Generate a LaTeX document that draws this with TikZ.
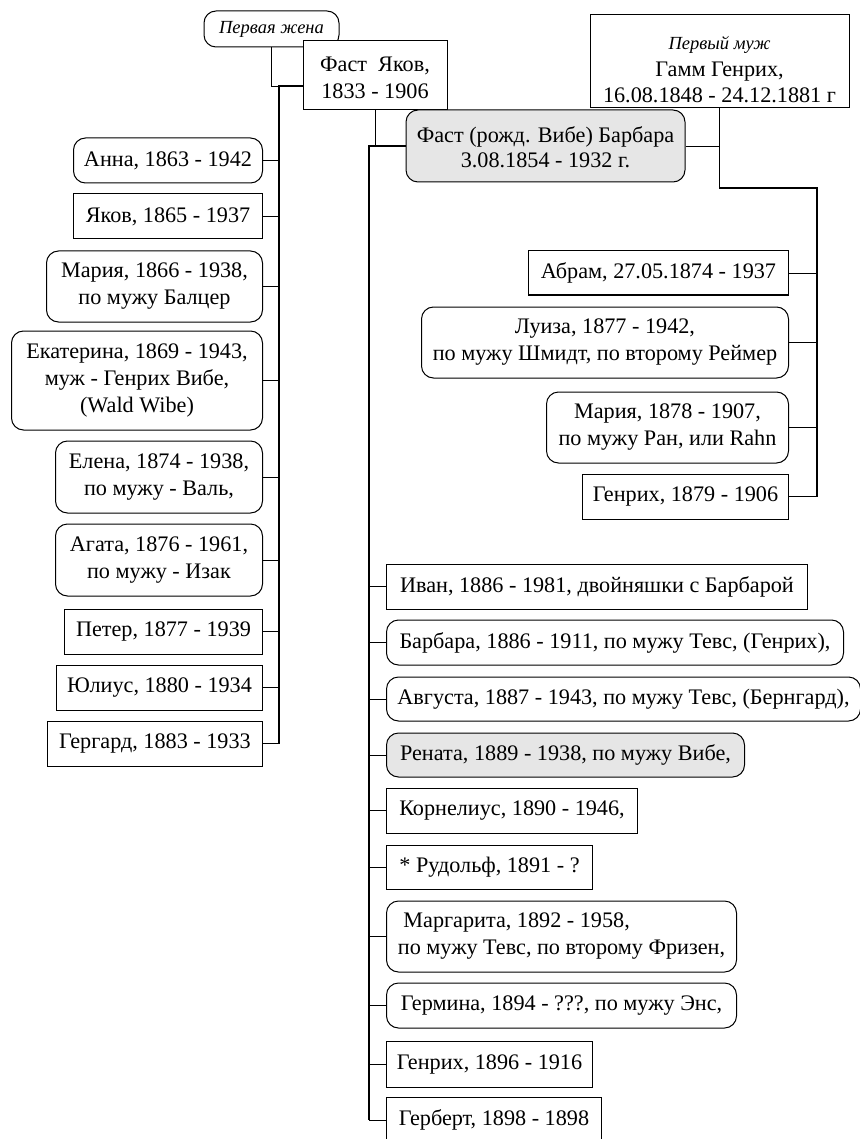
\documentclass[tikz,border=0pt]{standalone}
\usepackage{fontspec}
\setmainfont{Liberation Serif}
\usepackage{xcolor}
\definecolor{boxgray}{RGB}{230,230,230}

\begin{document}
\begin{tikzpicture}[x=1pt,y=-1pt,thick,
    every node/.style={font=\fontsize{22.2}{27}\selectfont,align=center,inner sep=0pt},
    sq/.style={draw,line width=1pt,fill=white},
    rnd/.style={sq,rounded corners=12pt},
    gray box/.style={rnd,fill=boxgray},
    note/.style={font=\fontsize{18.5}{21}\selectfont\itshape},
    bus/.style={line width=1.7pt},
    branch/.style={line width=0.9pt}]
    \useasboundingbox (0,0) rectangle (859,1139);

    % parents
    \node[rnd,note,minimum width=135,minimum height=36] (1) at (271.5,29) {Первая жена};
    \node[sq,minimum width=144,minimum height=69] (2) at (375,75.5) {\rule{0pt}{19pt}Фаст\ \ Яков,\\1833 - 1906};
    \node[sq,minimum width=259,minimum height=93] (3) at (719.5,61.5) {\rule{0pt}{29pt}{\fontsize{18.5}{21}\selectfont\itshape Первый муж}\\Гамм Генрих,\\[-1pt]16.08.1848 - 24.12.1881 г};
    \node[gray box,minimum width=279,minimum height=72] (4) at (545.5,146) {\rule{0pt}{19pt}Фаст (рожд. Вибе) Барбара\\[-2pt]3.08.1854 - 1932 г.};

    % children of the first wife
    \node[rnd,anchor=east,minimum width=189,minimum height=45] (5) at (263,160.5) {Анна, 1863 - 1942};
    \node[sq,anchor=east,minimum width=189,minimum height=45] (6) at (263,216.5) {Яков, 1865 - 1937};
    \node[rnd,anchor=east,minimum width=216,minimum height=71] (7) at (263,286.5) {Мария, 1866 - 1938,\\по мужу Балцер};
    \node[rnd,anchor=east,minimum width=251,minimum height=99] (8) at (263,380.5) {Екатерина, 1869 - 1943,\\муж - Генрих Вибе,\\(Wald Wibe)};
    \node[rnd,anchor=east,minimum width=207,minimum height=72] (9) at (263,477) {Елена, 1874 - 1938,\\по мужу - Валь,};
    \node[rnd,anchor=east,minimum width=207,minimum height=72] (10) at (263,560) {Агата, 1876 - 1961,\\по мужу - Изак};
    \node[sq,anchor=east,minimum width=198,minimum height=45] (11) at (263,631.5) {Петер, 1877 - 1939};
    \node[sq,anchor=east,minimum width=206,minimum height=45] (12) at (263,687.5) {Юлиус, 1880 - 1934};
    \node[sq,anchor=east,minimum width=215,minimum height=45] (13) at (263,743.5) {Гергард, 1883 - 1933};

    % children of the first husband
    \node[sq,anchor=east,minimum width=260,minimum height=44] (14) at (789,273) {Абрам, 27.05.1874 - 1937};
    \node[rnd,anchor=east,minimum width=367,minimum height=71] (15) at (789,342.5) {Луиза, 1877 - 1942,\\по мужу Шмидт, по второму Реймер};
    \node[rnd,anchor=east,minimum width=242,minimum height=71] (16) at (789,427.5) {Мария, 1878 - 1907,\\по мужу Ран, или Rahn};
    \node[sq,anchor=east,minimum width=206,minimum height=45] (17) at (789,496.5) {Генрих, 1879 - 1906};

    % children of the second marriage
    \node[sq,anchor=west,minimum width=421,minimum height=45] (18) at (386,586.5) {Иван, 1886 - 1981, двойняшки с Барбарой};
    \node[rnd,anchor=west,minimum width=457,minimum height=45] (19) at (386,642.5) {Барбара, 1886 - 1911, по мужу Тевс, (Генрих),};
    \node[rnd,anchor=west,minimum width=474,minimum height=44] (20) at (386,699) {Августа, 1887 - 1943, по мужу Тевс, (Бернгард),};
    \node[gray box,anchor=west,minimum width=358,minimum height=44] (21) at (386,755) {Рената, 1889 - 1938, по мужу Вибе,};
    \node[sq,anchor=west,minimum width=251,minimum height=45] (22) at (386,810.5) {Корнелиус, 1890 - 1946,};
    \node[sq,anchor=west,minimum width=206,minimum height=44] (23) at (386,867) {* Рудольф, 1891 - ?};
    \node[rnd,anchor=west,align=left,minimum width=350,minimum height=71] (24) at (386,936.5) {\ Маргарита, 1892 - 1958,\\по мужу Тевс, по второму Фризен,};
    \node[rnd,anchor=west,minimum width=350,minimum height=45] (25) at (386,1005.5) {Гермина, 1894 - ???, по мужу Энс,};
    \node[sq,anchor=west,minimum width=206,minimum height=46] (26) at (386,1064) {Генрих, 1896 - 1916};
    \node[sq,anchor=west,minimum width=215,minimum height=46] (27) at (386,1120) {Герберт, 1898 - 1898};

    % marriages
    \draw[branch] (1.south) |- ([yshift=-10.5pt]2.west);
    \draw[branch] (2.south) -- (2.south |- 4.west);
    \draw[branch] (4.east) -- (4.east -| 3.south);

    % buses
    \coordinate (lb) at (279,86);
    \coordinate (mb) at (369,146);
    \coordinate (rb) at (817,188);
    \draw[bus] ([yshift=-10.5pt]2.west) -- (lb) -- (lb |- 13.east);
    \draw[bus] (4.west) -- (mb) -- (mb |- 27.west);
    \draw[bus] (3.south) |- (rb) -- (rb |- 17.east);
    \foreach \n in {5,...,13} \draw[branch] (lb |- \n.east) -- (\n.east);
    \foreach \n in {14,...,17} \draw[branch] (rb |- \n.east) -- (\n.east);
    \foreach \n in {18,...,27} \draw[branch] (mb |- \n.west) -- (\n.west);
\end{tikzpicture}
\end{document}
